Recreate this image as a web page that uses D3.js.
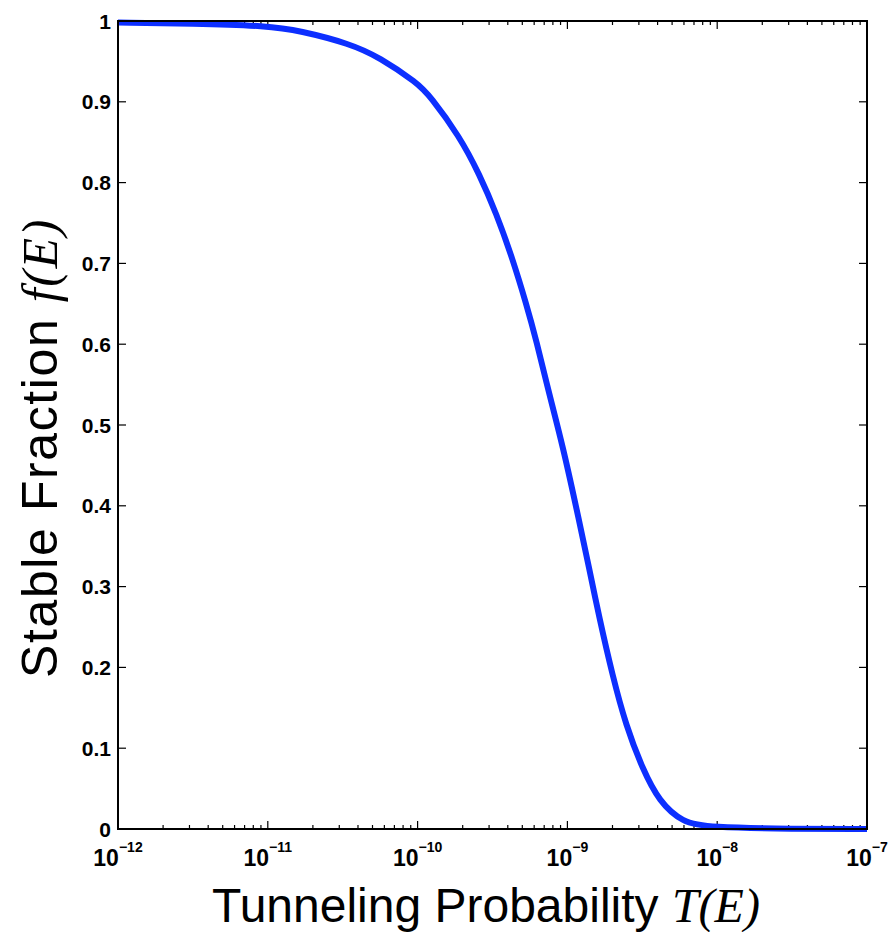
<!DOCTYPE html>
<html>
<head>
<meta charset="utf-8">
<script src="https://d3js.org/d3.v7.min.js"></script>
<style>
  body { margin: 0; background: #fff; }
  svg { display: block; }
</style>
</head>
<body>
<svg id="chart" width="888" height="932"></svg>
<script>
// curve: tunneling probability T(E) vs stable fraction f(E)
const tunnelProb = [1e-12, 3.16e-12, 1e-11, 1.63e-11, 3.52e-11, 5.58e-11, 1e-10, 1.2e-10, 1.91e-10,
    2.59e-10, 3.35e-10, 4.32e-10, 5.31e-10, 6.18e-10, 7.59e-10, 9.31e-10, 1.14e-9, 1.40e-9, 1.63e-9,
    2.00e-9, 2.46e-9, 3.18e-9, 4.10e-9, 5.87e-9, 8.85e-9, 3.16e-8, 1e-7];
const stableFrac = [0.998, 0.997, 0.994, 0.988, 0.972, 0.955, 0.923, 0.908, 0.857,
    0.810, 0.762, 0.705, 0.650, 0.606, 0.537, 0.474, 0.400, 0.322, 0.262,
    0.190, 0.128, 0.074, 0.034, 0.008, 0.002, 0.0, 0.0];

const xMajor = [1e-12, 1e-11, 1e-10, 1e-9, 1e-8, 1e-7];
const xExponents = ["\u221212", "\u221211", "\u221210", "\u22129", "\u22128", "\u22127"];
const yTicks = [0, 0.1, 0.2, 0.3, 0.4, 0.5, 0.6, 0.7, 0.8, 0.9, 1];
const yTickLabels = ["0", "0.1", "0.2", "0.3", "0.4", "0.5", "0.6", "0.7", "0.8", "0.9", "1"];

const svg = d3.select("#chart");
const plotLeft = 118, plotRight = 867, plotTop = 21, plotBottom = 829;

const x = d3.scaleLog().domain([1e-12, 1e-7]).range([plotLeft, plotRight]);
const y = d3.scaleLinear().domain([0, 1]).range([plotBottom, plotTop]);

// minor ticks 2..9 for each decade
const xMinor = x.ticks().filter(t => !xMajor.some(m => Math.abs(m - t) / m < 1e-6));

const ticks = svg.append("g").attr("stroke", "#000").attr("stroke-width", 1.2);

// bottom + top ticks (pointing inwards)
xMajor.forEach(t => {
    ticks.append("line").attr("x1", x(t)).attr("x2", x(t)).attr("y1", plotBottom).attr("y2", plotBottom - 8);
    ticks.append("line").attr("x1", x(t)).attr("x2", x(t)).attr("y1", plotTop).attr("y2", plotTop + 8);
});
xMinor.forEach(t => {
    ticks.append("line").attr("x1", x(t)).attr("x2", x(t)).attr("y1", plotBottom).attr("y2", plotBottom - 4);
    ticks.append("line").attr("x1", x(t)).attr("x2", x(t)).attr("y1", plotTop).attr("y2", plotTop + 4);
});
// left + right ticks
yTicks.forEach(t => {
    ticks.append("line").attr("x1", plotLeft).attr("x2", plotLeft + 8).attr("y1", y(t)).attr("y2", y(t));
    ticks.append("line").attr("x1", plotRight).attr("x2", plotRight - 8).attr("y1", y(t)).attr("y2", y(t));
});

// the curve
const line = d3.line()
    .x((d, i) => x(tunnelProb[i]))
    .y(d => y(d))
    .curve(d3.curveBasis);

svg.append("path")
    .datum(stableFrac)
    .attr("d", line)
    .attr("fill", "none")
    .attr("stroke", "#0d2fff")
    .attr("stroke-width", 6)
    .attr("stroke-linejoin", "round");

// box
svg.append("rect")
    .attr("x", plotLeft).attr("y", plotTop)
    .attr("width", plotRight - plotLeft).attr("height", plotBottom - plotTop)
    .attr("fill", "none").attr("stroke", "#000").attr("stroke-width", 2);

// y tick labels
svg.append("g").selectAll("text")
    .data(yTicks)
    .join("text")
    .attr("x", plotLeft - 7)
    .attr("y", d => y(d))
    .attr("dy", "0.36em")
    .attr("text-anchor", "end")
    .attr("font-family", "Liberation Sans, Arial, sans-serif")
    .attr("font-weight", "bold")
    .attr("font-size", 21)
    .text((d, i) => yTickLabels[i]);

// x tick labels: 10^n
const xl = svg.append("g")
    .attr("font-family", "Liberation Sans, Arial, sans-serif")
    .attr("font-weight", "bold");
xMajor.forEach((t, i) => {
    const txt = xl.append("text")
        .attr("x", x(t))
        .attr("y", 866)
        .attr("text-anchor", "middle");
    txt.append("tspan").attr("font-size", 23).text("10");
    txt.append("tspan").attr("font-size", 14).attr("dy", -14).text(xExponents[i]);
});

// axis titles
const xTitle = svg.append("text")
    .attr("x", 486)
    .attr("y", 922)
    .attr("text-anchor", "middle")
    .attr("font-family", "Liberation Sans, Arial, sans-serif")
    .attr("font-size", 48);
xTitle.append("tspan").text("Tunneling Probability ");
xTitle.append("tspan")
    .attr("font-family", "Liberation Serif, Times New Roman, serif")
    .attr("font-style", "italic")
    .text("T(E)");

const yTitle = svg.append("text")
    .attr("transform", "translate(57,448) rotate(-90)")
    .attr("text-anchor", "middle")
    .attr("font-family", "Liberation Sans, Arial, sans-serif")
    .attr("font-size", 50)
    .attr("letter-spacing", 1.6);
yTitle.append("tspan").text("Stable Fraction ");
yTitle.append("tspan")
    .attr("font-family", "Liberation Serif, Times New Roman, serif")
    .attr("font-style", "italic")
    .text("f(E)");
</script>
</body>
</html>
